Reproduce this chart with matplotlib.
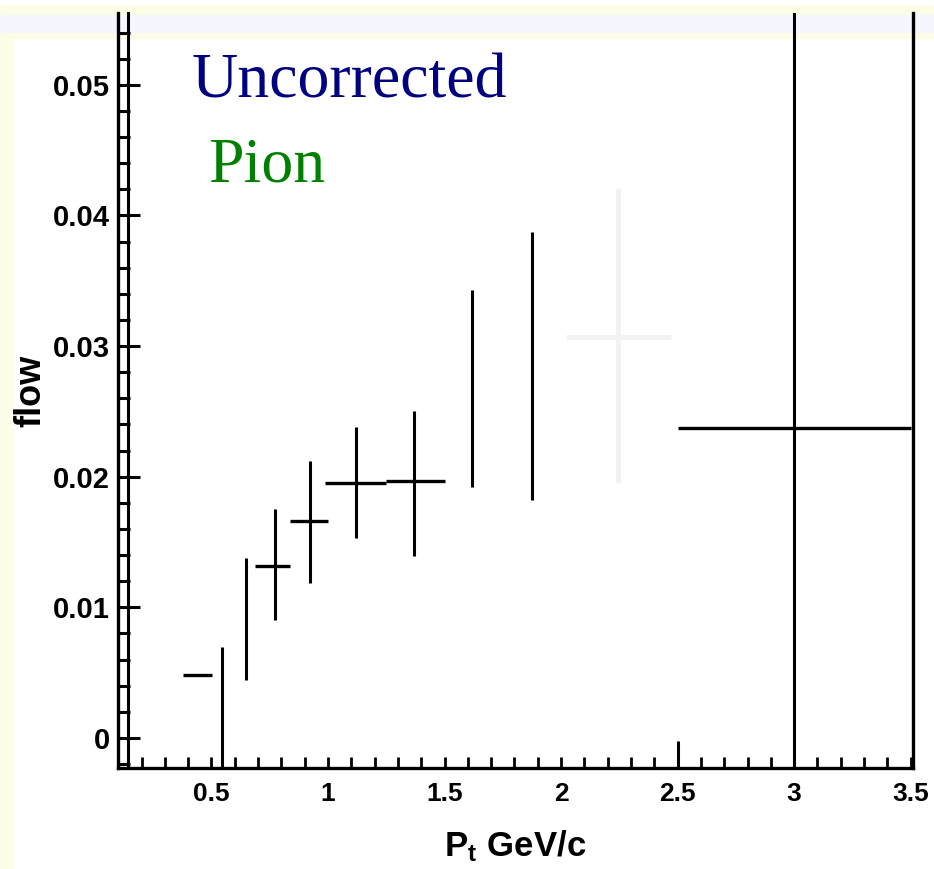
import matplotlib
matplotlib.use("Agg")
import matplotlib.pyplot as plt
from matplotlib.patches import Rectangle
from matplotlib.ticker import MultipleLocator

# Horizontal (bin width) segments: low edge, high edge, value
hbar_lo = [0.378, 0.687, 0.837, 0.987, 1.249, 2.5]
hbar_hi = [0.502, 0.837, 1.000, 1.249, 1.502, 3.5]
hbar_y = [0.0048, 0.0132, 0.0166, 0.0195, 0.0197, 0.0237]

# Vertical (error) segments: x, low, high
vbar_x = [0.545, 0.648, 0.773, 0.923, 1.120, 1.369, 1.618, 1.876, 2.5, 3.0]
vbar_lo = [-0.005, 0.0044, 0.0090, 0.0119, 0.0153, 0.0139, 0.0192, 0.0182, -0.005, -0.01]
vbar_hi = [0.0070, 0.0138, 0.0175, 0.0212, 0.0238, 0.0250, 0.0343, 0.0387, -0.0002, 0.07]

# faint ghost marks left over in the scanned picture
ghost_x = [2.245]
ghost_y = [0.0307]
ghost_xerr = [0.225]
ghost_yerr = [[0.0112], [0.0114]]

yticks = [0, 0.01, 0.02, 0.03, 0.04, 0.05]
ytick_labels = ["0", "0.01", "0.02", "0.03", "0.04", "0.05"]
xticks = [0.5, 1, 1.5, 2, 2.5, 3, 3.5]
xtick_labels = ["0.5", "1", "1.5", "2", "2.5", "3", "3.5"]

sans = ["Liberation Sans", "DejaVu Sans"]
plt.rcParams["mathtext.fontset"] = "custom"
plt.rcParams["mathtext.rm"] = "Liberation Sans:bold"
plt.rcParams["mathtext.it"] = "Liberation Sans:bold"

fig = plt.figure(figsize=(9.34, 8.69), dpi=100)

# pale bands of the screenshot
fig.patches.append(Rectangle((0, 1 - 38 / 869), 1, 33 / 869, transform=fig.transFigure,
                             color="#fdfde6", zorder=-2))
fig.patches.append(Rectangle((0, 1 - 32 / 869), 1, 17 / 869, transform=fig.transFigure,
                             color="#f6f6ff", zorder=-1))
fig.patches.append(Rectangle((0, 0), 13 / 934, 1 - 38 / 869, transform=fig.transFigure,
                             color="#fdfdea", zorder=-2))

ax = fig.add_axes([118 / 934, 1 - 768 / 869, (913 - 118) / 934, (768 - 13) / 869])
ax.patch.set_alpha(0)

# ghost cross
ax.errorbar(ghost_x, ghost_y, xerr=ghost_xerr, yerr=ghost_yerr, fmt="none",
            ecolor="#f2f2f2", elinewidth=3.5, capsize=0, zorder=1)

ax.hlines(hbar_y, hbar_lo, hbar_hi, color="black", lw=2.4, zorder=3)
ax.vlines(vbar_x, vbar_lo, vbar_hi, color="black", lw=2.2, zorder=3)

ax.set_xlim(0.099, 3.51)
ax.set_ylim(-0.0023, 0.0555)

ax.spines["top"].set_visible(False)
for s in ["left", "bottom", "right"]:
    ax.spines[s].set_linewidth(2.4)
# second left frame line
ax.plot([0.0126, 0.0126], [0, 1], transform=ax.transAxes, color="black", lw=2.2, clip_on=False)

ax.set_yticks(yticks)
ax.set_yticklabels(ytick_labels)
ax.set_xticks(xticks)
ax.set_xticklabels(xtick_labels)
ax.yaxis.set_minor_locator(MultipleLocator(0.002))
ax.xaxis.set_minor_locator(MultipleLocator(0.1))
ax.tick_params(axis="y", which="major", direction="in", length=16, width=2.2, pad=6)
ax.tick_params(axis="y", which="minor", direction="in", length=8.5, width=2.2)
ax.tick_params(axis="x", which="both", direction="in", length=8, width=2, pad=10)
ax.tick_params(right=False, which="both")

for lab in ax.get_yticklabels():
    lab.set_family(sans)
    lab.set_fontweight("bold")
    lab.set_fontsize(21)
for lab in ax.get_xticklabels():
    lab.set_family(sans)
    lab.set_fontweight("bold")
    lab.set_fontsize(19)

ax.set_ylabel("flow", family=sans, fontweight="bold", fontsize=26)
ax.yaxis.set_label_coords(-0.088, 0.5)
ax.set_xlabel(r"$\mathrm{P_t\ GeV/c}$", fontsize=25, labelpad=16)

fig.text(192 / 934, 1 - 98 / 869, "Uncorrected", family="Liberation Serif",
         fontsize=46, color="#000080", ha="left", va="baseline")
fig.text(208 / 934, 1 - 182 / 869, "Pion", family="Liberation Serif",
         fontsize=46, color="#008000", ha="left", va="baseline")

plt.savefig("out.png", dpi=100)
